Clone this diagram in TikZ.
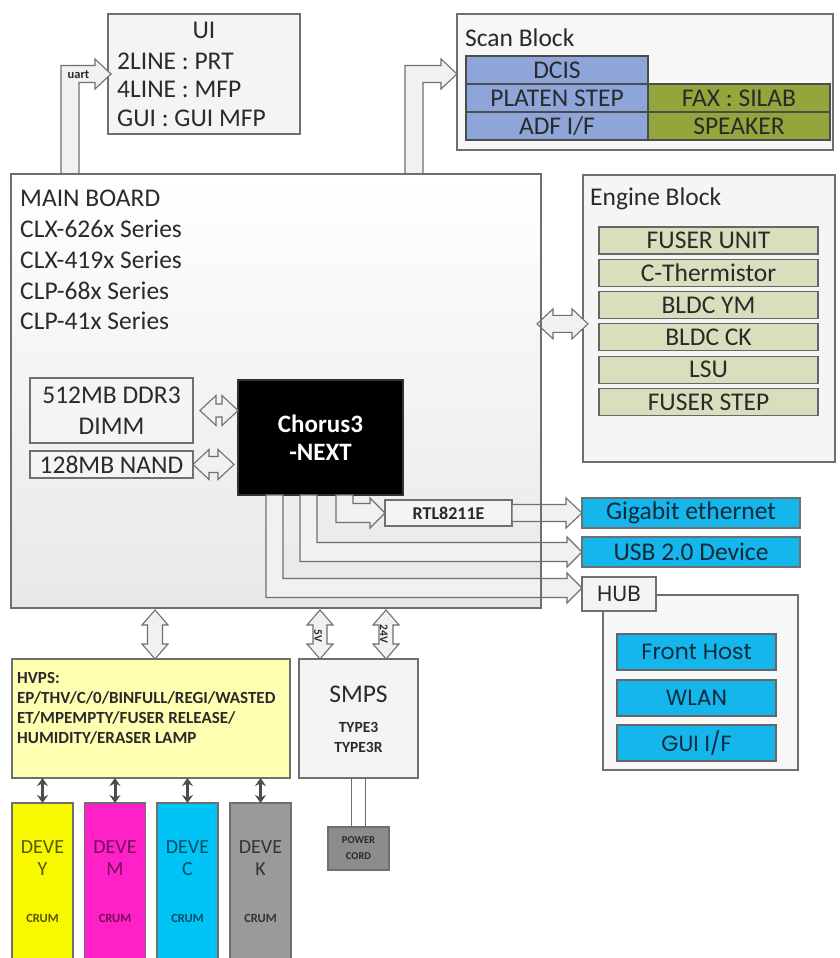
\documentclass[tikz,border=0pt]{standalone}
\usepackage{fontspec}
\setmainfont{Carlito}
\newfontfamily\gothic{Poppins}
\usetikzlibrary{calc,arrows.meta}

\definecolor{edge}{HTML}{6F6F6F}
\definecolor{ink}{HTML}{2A2A2A}
\definecolor{panel}{HTML}{F4F4F4}
\definecolor{arrowfill}{HTML}{F1F1F1}
\definecolor{scanblue}{HTML}{8EA5DA}
\definecolor{faxgreen}{HTML}{93A63C}
\definecolor{engkhaki}{HTML}{D9DEBC}
\definecolor{netcyan}{HTML}{14B6EC}
\definecolor{netink}{HTML}{0F2A3A}
\definecolor{hvyellow}{HTML}{FFFFB2}
\definecolor{deveY}{HTML}{F8F800}
\definecolor{deveM}{HTML}{FF20C8}
\definecolor{deveC}{HTML}{00C4F6}
\definecolor{deveK}{HTML}{9A9A9A}
\definecolor{cordgray}{HTML}{8C8C8C}

\tikzset{
	box/.style={draw=edge, line width=1.1pt, inner sep=0pt, outer sep=0pt},
	lbl/.style={text=ink, font=\fontsize{25.5}{30}\selectfont, inner sep=0pt},
	bold/.style={text=ink, font=\bfseries\fontsize{#1}{20}\selectfont, inner sep=0pt},
	arrowbody/.style={draw=edge, fill=arrowfill, line width=1.1pt, line join=miter},
	devearrow/.style={draw=black!70, line width=3pt, {Stealth[length=8pt,width=11pt]}-{Stealth[length=8pt,width=11pt]}},
}

\def\hdbl#1#2#3#4{\filldraw[arrowbody] let \p1=#1, \p2=#2 in (\x1,\y1) -- (\x1+16pt,\y1+#3) -- (\x1+16pt,\y1+#4) -- (\x2-16pt,\y1+#4) -- (\x2-16pt,\y1+#3) -- (\x2,\y1) -- (\x2-16pt,\y1-#3) -- (\x2-16pt,\y1-#4) -- (\x1+16pt,\y1-#4) -- (\x1+16pt,\y1-#3) -- cycle;}
\def\vdbl#1#2#3#4{\filldraw[arrowbody] let \p1=#1, \p2=#2 in (\x1,\y1) -- (\x1+#3,\y1-15pt) -- (\x1+#4,\y1-15pt) -- (\x1+#4,\y2+15pt) -- (\x1+#3,\y2+15pt) -- (\x1,\y2) -- (\x1-#3,\y2+15pt) -- (\x1-#4,\y2+15pt) -- (\x1-#4,\y1-15pt) -- (\x1-#3,\y1-15pt) -- cycle;}
\def\upright#1#2{\filldraw[arrowbody] let \p1=#1, \p2=#2 in (\x1,\y1) -- (\x1,\y2+8.5pt) -- (\x2-16pt,\y2+8.5pt) -- (\x2-16pt,\y2+15pt) -- (\x2,\y2) -- (\x2-16pt,\y2-15pt) -- (\x2-16pt,\y2-8.5pt) -- (\x1+18pt,\y2-8.5pt) -- (\x1+18pt,\y1) -- cycle;}
\def\downright#1#2{\filldraw[arrowbody] let \p1=#1, \p2=#2 in (\x1,\y1) -- (\x1,\y2-9.5pt) -- (\x2-15pt,\y2-9.5pt) -- (\x2-15pt,\y2-15pt) -- (\x2,\y2) -- (\x2-15pt,\y2+15pt) -- (\x2-15pt,\y2+9.5pt) -- (\x1+17pt,\y2+9.5pt) -- (\x1+17pt,\y1) -- cycle;}
\def\rightarr#1#2{\filldraw[arrowbody] let \p1=#1, \p2=#2 in (\x1,\y1+8.5pt) -- (\x2-16pt,\y1+8.5pt) -- (\x2-16pt,\y1+15pt) -- (\x2,\y1) -- (\x2-16pt,\y1-15pt) -- (\x2-16pt,\y1-8.5pt) -- (\x1,\y1-8.5pt) -- cycle;}

\begin{document}
\begin{tikzpicture}[x=1pt,y=-1pt]
			%%%%% START %%%%%
			\useasboundingbox (0,0) rectangle (839,958);
			
			\node[box, fill=panel, minimum width=192, minimum height=120] (ui) at (204,74) {};
			\node[lbl] (uititle) at (204,30) {UI};
			\node[lbl, anchor=west] (ui2line) at (117,61) {2LINE : PRT};
			\node[lbl, anchor=west] (ui4line) at (117,89) {4LINE : MFP};
			\node[lbl, anchor=west] (uigui) at (117,118) {GUI : GUI MFP};
			
			\node[box, fill=white!97!black, minimum width=376, minimum height=136] (scan) at (645,82) {};
			\node[lbl, anchor=west] (scantitle) at (465,38) {Scan Block};
			\node[box, draw=black!70, fill=scanblue, minimum width=182, minimum height=28, lbl] (dcis) at (557,70) {DCIS};
			\node[box, draw=black!70, fill=scanblue, minimum width=182, minimum height=28, lbl] (platen) at (557,98) {PLATEN STEP};
			\node[box, draw=black!70, fill=scanblue, minimum width=182, minimum height=28, lbl] (adf) at (557,126) {ADF I/F};
			\node[box, draw=black!70, fill=faxgreen, minimum width=182, minimum height=28, lbl] (fax) at (739,98) {FAX : SILAB};
			\node[box, draw=black!70, fill=faxgreen, minimum width=182, minimum height=28, lbl] (speaker) at (739,126) {SPEAKER};
			
			\node[box, fill=white!96!black, minimum width=252, minimum height=287] (engine) at (709,318.5) {};
			\node[lbl, anchor=west] (enginetitle) at (590,199) {Engine Block};
			\node[box, draw=black!60, fill=engkhaki, minimum width=219, minimum height=27, lbl] (fuser) at (708.5,240.5) {FUSER UNIT};
			\node[box, draw=black!60, fill=engkhaki, minimum width=219, minimum height=27, lbl] (therm) at (708.5,272.8) {C-Thermistor};
			\node[box, draw=black!60, fill=engkhaki, minimum width=219, minimum height=27, lbl] (bldcym) at (708.5,305.1) {BLDC YM};
			\node[box, draw=black!60, fill=engkhaki, minimum width=219, minimum height=27, lbl] (bldcck) at (708.5,337.4) {BLDC CK};
			\node[box, draw=black!60, fill=engkhaki, minimum width=219, minimum height=27, lbl] (lsu) at (708.5,369.7) {LSU};
			\node[box, draw=black!60, fill=engkhaki, minimum width=219, minimum height=27, lbl] (fuserstep) at (708.5,402) {FUSER STEP};
			
			\node[box, top color=white, bottom color=black!9, minimum width=530, minimum height=434] (main) at (276,391) {};
			\node[lbl, anchor=west] (mainboard) at (20,198) {MAIN BOARD};
			\node[lbl, anchor=west] (clxa) at (20,229) {CLX-626x Series};
			\node[lbl, anchor=west] (clxb) at (20,260) {CLX-419x Series};
			\node[lbl, anchor=west] (clpa) at (20,291) {CLP-68x Series};
			\node[lbl, anchor=west] (clpb) at (20,321) {CLP-41x Series};
			
			\node[box, fill=panel, minimum width=163, minimum height=65, lbl, font=\fontsize{25.5}{31}\selectfont, align=center] (ddr) at (111.5,410.5) {512MB DDR3\\DIMM};
			\node[box, fill=panel, minimum width=163, minimum height=27, lbl] (nand) at (111.5,464.5) {128MB NAND};
			\node[box, fill=black, draw=black!80, minimum width=165, minimum height=115, text=white, font=\bfseries\fontsize{25}{28}\selectfont, align=center] (chorus) at (320.5,437.5) {Chorus3\\-NEXT};
			\node[box, fill=panel, minimum width=127, minimum height=26, bold=18] (rtl) at (448.5,513) {RTL8211E};
			
			\upright{($(main.north west)+(50,0)$)}{($(ui.west)+(3,0)$)}
			\node[bold=12.5] (uart) at (78.5,75) {uart};
			\upright{($(main.north west)+(394,0)$)}{(scan.west |- ui.west)}
			\hdbl{($(main.east |- bldcck.north)+(-4,0)$)}{($(engine.west |- bldcck.north)+(5,0)$)}{15pt}{8.5pt}
			\hdbl{($(ddr.east)+(7,0)$)}{(chorus.west |- ddr.east)}{15pt}{6.5pt}
			\hdbl{(nand.east)}{($(chorus.west |- nand.east)+(-4,0)$)}{15pt}{8pt}
			
			\node[box, fill=netcyan, minimum width=218, minimum height=30, lbl, text=netink] (gig) at (691,513) {Gigabit ethernet};
			\node[box, fill=netcyan, minimum width=218, minimum height=30, lbl, text=netink] (usb) at (691,552) {USB 2.0 Device};
			\node[box, fill=white!97!black, minimum width=195, minimum height=175] (hubarea) at (700.5,682.5) {};
			\node[box, fill=panel, minimum width=74, minimum height=34, text=ink, font=\gothic\fontsize{22}{26}\selectfont] (hub) at (619,594) {HUB};
			\node[box, draw=black!60, fill=netcyan, minimum width=159, minimum height=36, text=netink, font=\gothic\fontsize{22}{26}\selectfont] (front) at (696.5,652) {Front Host};
			\node[box, draw=black!60, fill=netcyan, minimum width=159, minimum height=36, text=netink, font=\gothic\fontsize{22}{26}\selectfont] (wlan) at (696.5,698) {WLAN};
			\node[box, draw=black!60, fill=netcyan, minimum width=159, minimum height=36, text=netink, font=\gothic\fontsize{22}{26}\selectfont] (guiif) at (696.5,743) {GUI I/F};
			
			\downright{($(chorus.south west)+(28,0)$)}{($(hub.west)+(0,-6)$)}
			\downright{($(chorus.south west)+(62,0)$)}{(usb.west)}
			\downright{($(chorus.south west)+(98,0)$)}{(rtl.west)}
			\rightarr{(rtl.east)}{(gig.west)}
			\draw[box] (main.north west) rectangle (main.south east);
			
			\node[box, fill=hvyellow, minimum width=278, minimum height=119] (hvps) at (151,718.5) {};
			\node[bold=17, anchor=west] (hvpsa) at (17,678) {HVPS:};
			\node[bold=17, anchor=west] (hvpsb) at (17,698) {EP/THV/C/0/BINFULL/REGI/WASTED};
			\node[bold=17, anchor=west] (hvpsc) at (17,718) {ET/MPEMPTY/FUSER RELEASE/};
			\node[bold=17, anchor=west] (hvpsd) at (17,738) {HUMIDITY/ERASER LAMP};
			
			\node[box, fill=panel, minimum width=119, minimum height=119] (smps) at (358.5,718.5) {};
			\node[lbl] (smpstitle) at (358.5,694) {SMPS};
			\node[bold=15.5] (type3) at (358.5,727) {TYPE3};
			\node[bold=15.5] (type3r) at (358.5,747) {TYPE3R};
			
			\vdbl{($(hvps.north |- main.south)+(4,2)$)}{($(hvps.north)+(4,0)$)}{13pt}{7.5pt}
			\vdbl{($(smps.north west |- main.south)+(21,2)$)}{($(smps.north west)+(21,0)$)}{13pt}{7pt}
			\vdbl{($(smps.north east |- main.south)+(-32,2)$)}{($(smps.north east)+(-32,0)$)}{13pt}{7pt}
			\node[bold=11.5, rotate=-90] (v5) at ($(smps.north west)+(19,-23)$) {5V};
			\node[bold=11.5, rotate=-90] (v24) at ($(smps.north east)+(-34,-25)$) {24V};
			
			\node[box, fill=cordgray, minimum width=61, minimum height=43, text=ink, align=center, font=\bfseries\fontsize{10.5}{16}\selectfont] (cord) at (358.5,848.5) {POWER\\CORD};
			\draw[box] ($(smps.south)+(-7,0)$) -- ($(cord.north)+(-7,0)$);
			\draw[box] ($(smps.south)+(7,0)$) -- ($(cord.north)+(7,0)$);
			
			\node[box, fill=deveY, minimum width=61, minimum height=190] (deveY) at (42.5,898) {};
			\node[box, fill=deveM, minimum width=61, minimum height=190] (deveM) at (115,898) {};
			\node[box, fill=deveC, minimum width=61, minimum height=190] (deveC) at (187.5,898) {};
			\node[box, fill=deveK, minimum width=61, minimum height=190] (deveK) at (260.5,898) {};
			\node[lbl, text=deveY!35!black, font=\fontsize{20}{22}\selectfont, align=center] (deveYt) at (42.5,858) {DEVE\\Y};
			\node[lbl, text=deveM!45!black, font=\fontsize{20}{22}\selectfont, align=center] (deveMt) at (115,858) {DEVE\\M};
			\node[lbl, text=deveC!40!black, font=\fontsize{20}{22}\selectfont, align=center] (deveCt) at (187.5,858) {DEVE\\C};
			\node[lbl, text=black!80, font=\fontsize{20}{22}\selectfont, align=center] (deveKt) at (260.5,858) {DEVE\\K};
			\node[bold=12.5, text=deveY!35!black] (crumY) at (42.5,918) {CRUM};
			\node[bold=12.5, text=deveM!45!black] (crumM) at (115,918) {CRUM};
			\node[bold=12.5, text=deveC!40!black] (crumC) at (187.5,918) {CRUM};
			\node[bold=12.5, text=black!80] (crumK) at (260.5,918) {CRUM};
			
			\draw[devearrow] (deveY.north |- hvps.south) -- (deveY.north);
			\draw[devearrow] (deveM.north |- hvps.south) -- (deveM.north);
			\draw[devearrow] (deveC.north |- hvps.south) -- (deveC.north);
			\draw[devearrow] (deveK.north |- hvps.south) -- (deveK.north);
			
			%%%%% END %%%%%
\end{tikzpicture}
\end{document}
